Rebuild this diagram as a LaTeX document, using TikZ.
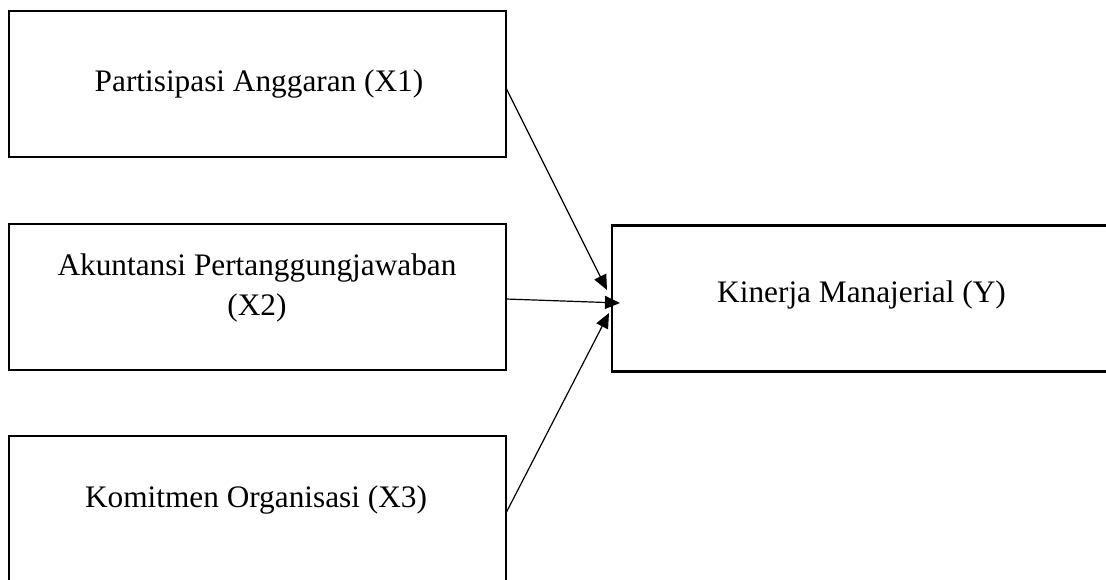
\documentclass[tikz,border=0pt]{standalone}
\usepackage{fontspec}
\setmainfont{Liberation Serif}
\usetikzlibrary{arrows.meta,calc}
\begin{document}
\begin{tikzpicture}[x=1pt,y=-1pt,
  box/.style={draw=black,line width=2.6pt,minimum width=497pt,minimum height=146pt,inner sep=0pt,outer sep=0pt},
  lbl/.style={font=\fontsize{31.3}{40}\selectfont,inner sep=0pt,align=center,anchor=base},
  conn/.style={line width=1.2pt,-{Triangle[length=15pt,width=13pt]}}]
\useasboundingbox (0,0) rectangle (1106,579);
\clip (0,0) rectangle (1106,579);
\node[box] (b1) at (257.5,84) {};
\node[box] (b2) at (257.5,297) {};
\node[box] (b3) at (257.5,509) {};
\node[box] (by) at (860.5,298.5) {};
\node[lbl] (t1) at (259,91) {Partisipasi Anggaran (X1)};
\node[lbl] (t2) at (257,315) {Akuntansi Pertanggungjawaban\\(X2)};
\node[lbl] (t3) at (256,507) {Komitmen Organisasi (X3)};
\node[lbl] (ty) at (861.5,302) {Kinerja Manajerial (Y)};
\coordinate (e1) at (607,290);
\coordinate (e2) at (620,303);
\coordinate (e3) at (609,313);
\draw[conn] ($(b1.east)+(0,4)$) -- (e1);
\draw[conn] ($(b2.east)+(0,2)$) -- (e2);
\draw[conn] ($(b3.east)+(0,4)$) -- (e3);
\end{tikzpicture}
\end{document}
